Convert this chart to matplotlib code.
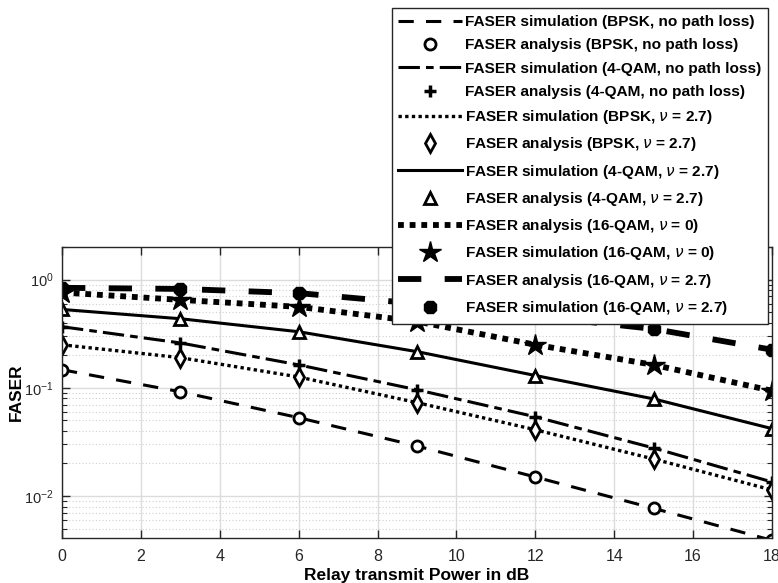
import numpy as np
import matplotlib.pyplot as plt
from matplotlib.ticker import LogLocator, NullFormatter

plt.rcParams['font.family'] = ['Liberation Sans', 'DejaVu Sans']
plt.rcParams['mathtext.fontset'] = 'dejavusans'

# transmit power (dB)
power_db = [0, 3, 6, 9, 12, 15, 18]

# FASER curves
bpsk_nopl = [0.147, 0.092, 0.053, 0.029, 0.015, 0.0077, 0.0039]
qam4_nopl = [0.367, 0.26, 0.163, 0.096, 0.054, 0.0278, 0.0135]
bpsk_pl = [0.25, 0.19, 0.126, 0.073, 0.041, 0.022, 0.0114]
qam4_pl = [0.53, 0.435, 0.33, 0.216, 0.13, 0.079, 0.042]
qam16_nu0 = [0.76, 0.65, 0.56, 0.41, 0.25, 0.163, 0.094]
qam16_pl = [0.84, 0.82, 0.75, 0.60, 0.46, 0.35, 0.225]

fig = plt.figure(figsize=(7.78, 5.83), dpi=100)
ax = fig.add_axes([0.0797, 0.0772, 0.9126, 0.4991])

k = 'black'
ax.plot(power_db, bpsk_nopl, color=k, lw=2.2, ls=(0, (5, 4)),
        label='FASER simulation (BPSK, no path loss)')
ax.plot(power_db, bpsk_nopl, color=k, ls='none', marker='o', ms=8, mfc='white', mew=2,
        label='FASER analysis (BPSK, no path loss)')
ax.plot(power_db, qam4_nopl, color=k, lw=2.2, ls=(0, (7, 2, 2.5, 2)),
        label='FASER simulation (4-QAM, no path loss)')
ax.plot(power_db, qam4_nopl, color=k, ls='none', marker='+', ms=9, mew=2.5,
        label='FASER analysis (4-QAM, no path loss)')
ax.plot(power_db, bpsk_pl, color=k, lw=2.4, ls=(0, (1, 1)),
        label=r'FASER simulation (BPSK, $\nu$ = 2.7)')
ax.plot(power_db, bpsk_pl, color=k, ls='none', marker='d', ms=9, mfc='white', mew=2,
        label=r'FASER analysis (BPSK, $\nu$ = 2.7)')
ax.plot(power_db, qam4_pl, color=k, lw=2.2, ls='-',
        label=r'FASER simulation (4-QAM, $\nu$ = 2.7)')
ax.plot(power_db, qam4_pl, color=k, ls='none', marker='^', ms=9, mfc='white', mew=2,
        label=r'FASER analysis (4-QAM, $\nu$ = 2.7)')
ax.plot(power_db, qam16_nu0, color=k, lw=4.2, ls=(0, (1, 1)), dash_capstyle='butt',
        label=r'FASER analysis (16-QAM, $\nu$ = 0)')
ax.plot(power_db, qam16_nu0, color=k, ls='none', marker='*', ms=16,
        label=r'FASER simulation (16-QAM, $\nu$ = 0)')
ax.plot(power_db, qam16_pl, color=k, lw=4.2, ls=(0, (4, 4)), dash_capstyle='butt',
        label=r'FASER analysis (16-QAM, $\nu$ = 2.7)')
ax.plot(power_db, qam16_pl, color=k, ls='none', marker='8', ms=10,
        label=r'FASER simulation (16-QAM, $\nu$ = 2.7)')

ax.set_yscale('log')
ax.set_xlim(0, 18)
ax.set_ylim(0.0041, 2.0)
ax.set_xticks(np.arange(0, 19, 2))
ax.yaxis.set_major_locator(LogLocator(base=10, numticks=10))
ax.yaxis.set_minor_locator(LogLocator(base=10, subs=np.arange(2, 10), numticks=20))
ax.yaxis.set_minor_formatter(NullFormatter())

ax.grid(True, which='major', color='#dcdcdc', lw=1.0, ls='-')
ax.grid(True, which='minor', axis='y', color='#cfcfcf', lw=0.8, ls=(0, (1, 2)))
ax.set_axisbelow(True)

ax.tick_params(which='both', direction='in', top=True, right=True, colors='#262626',
               labelcolor='#262626')
ax.tick_params(which='major', length=6, width=1)
ax.tick_params(axis='x', which='major', pad=8, labelsize=11.5)
ax.tick_params(axis='y', which='major', pad=6, labelsize=10.5)
ax.tick_params(which='minor', length=3.5, width=0.8)
for s in ax.spines.values():
    s.set_color('#262626')
    s.set_linewidth(1.0)

ax.set_xlabel('Relay transmit Power in dB', fontsize=12.5, fontweight='bold', labelpad=3)
ax.set_ylabel('FASER', fontsize=12.5, fontweight='bold')
ax.yaxis.set_label_coords(-0.054, 0.5)

leg = fig.legend(loc='upper right', bbox_to_anchor=(0.997, 0.999), frameon=True,
                 fancybox=False, edgecolor='#262626', framealpha=1,
                 prop={'weight': 'bold', 'size': 11.1}, handlelength=4.1,
                 handletextpad=0.2, labelspacing=0.6, borderpad=0.45, numpoints=1)
leg.get_frame().set_linewidth(1.0)

fig.savefig('out.png', dpi=100, facecolor='white')
